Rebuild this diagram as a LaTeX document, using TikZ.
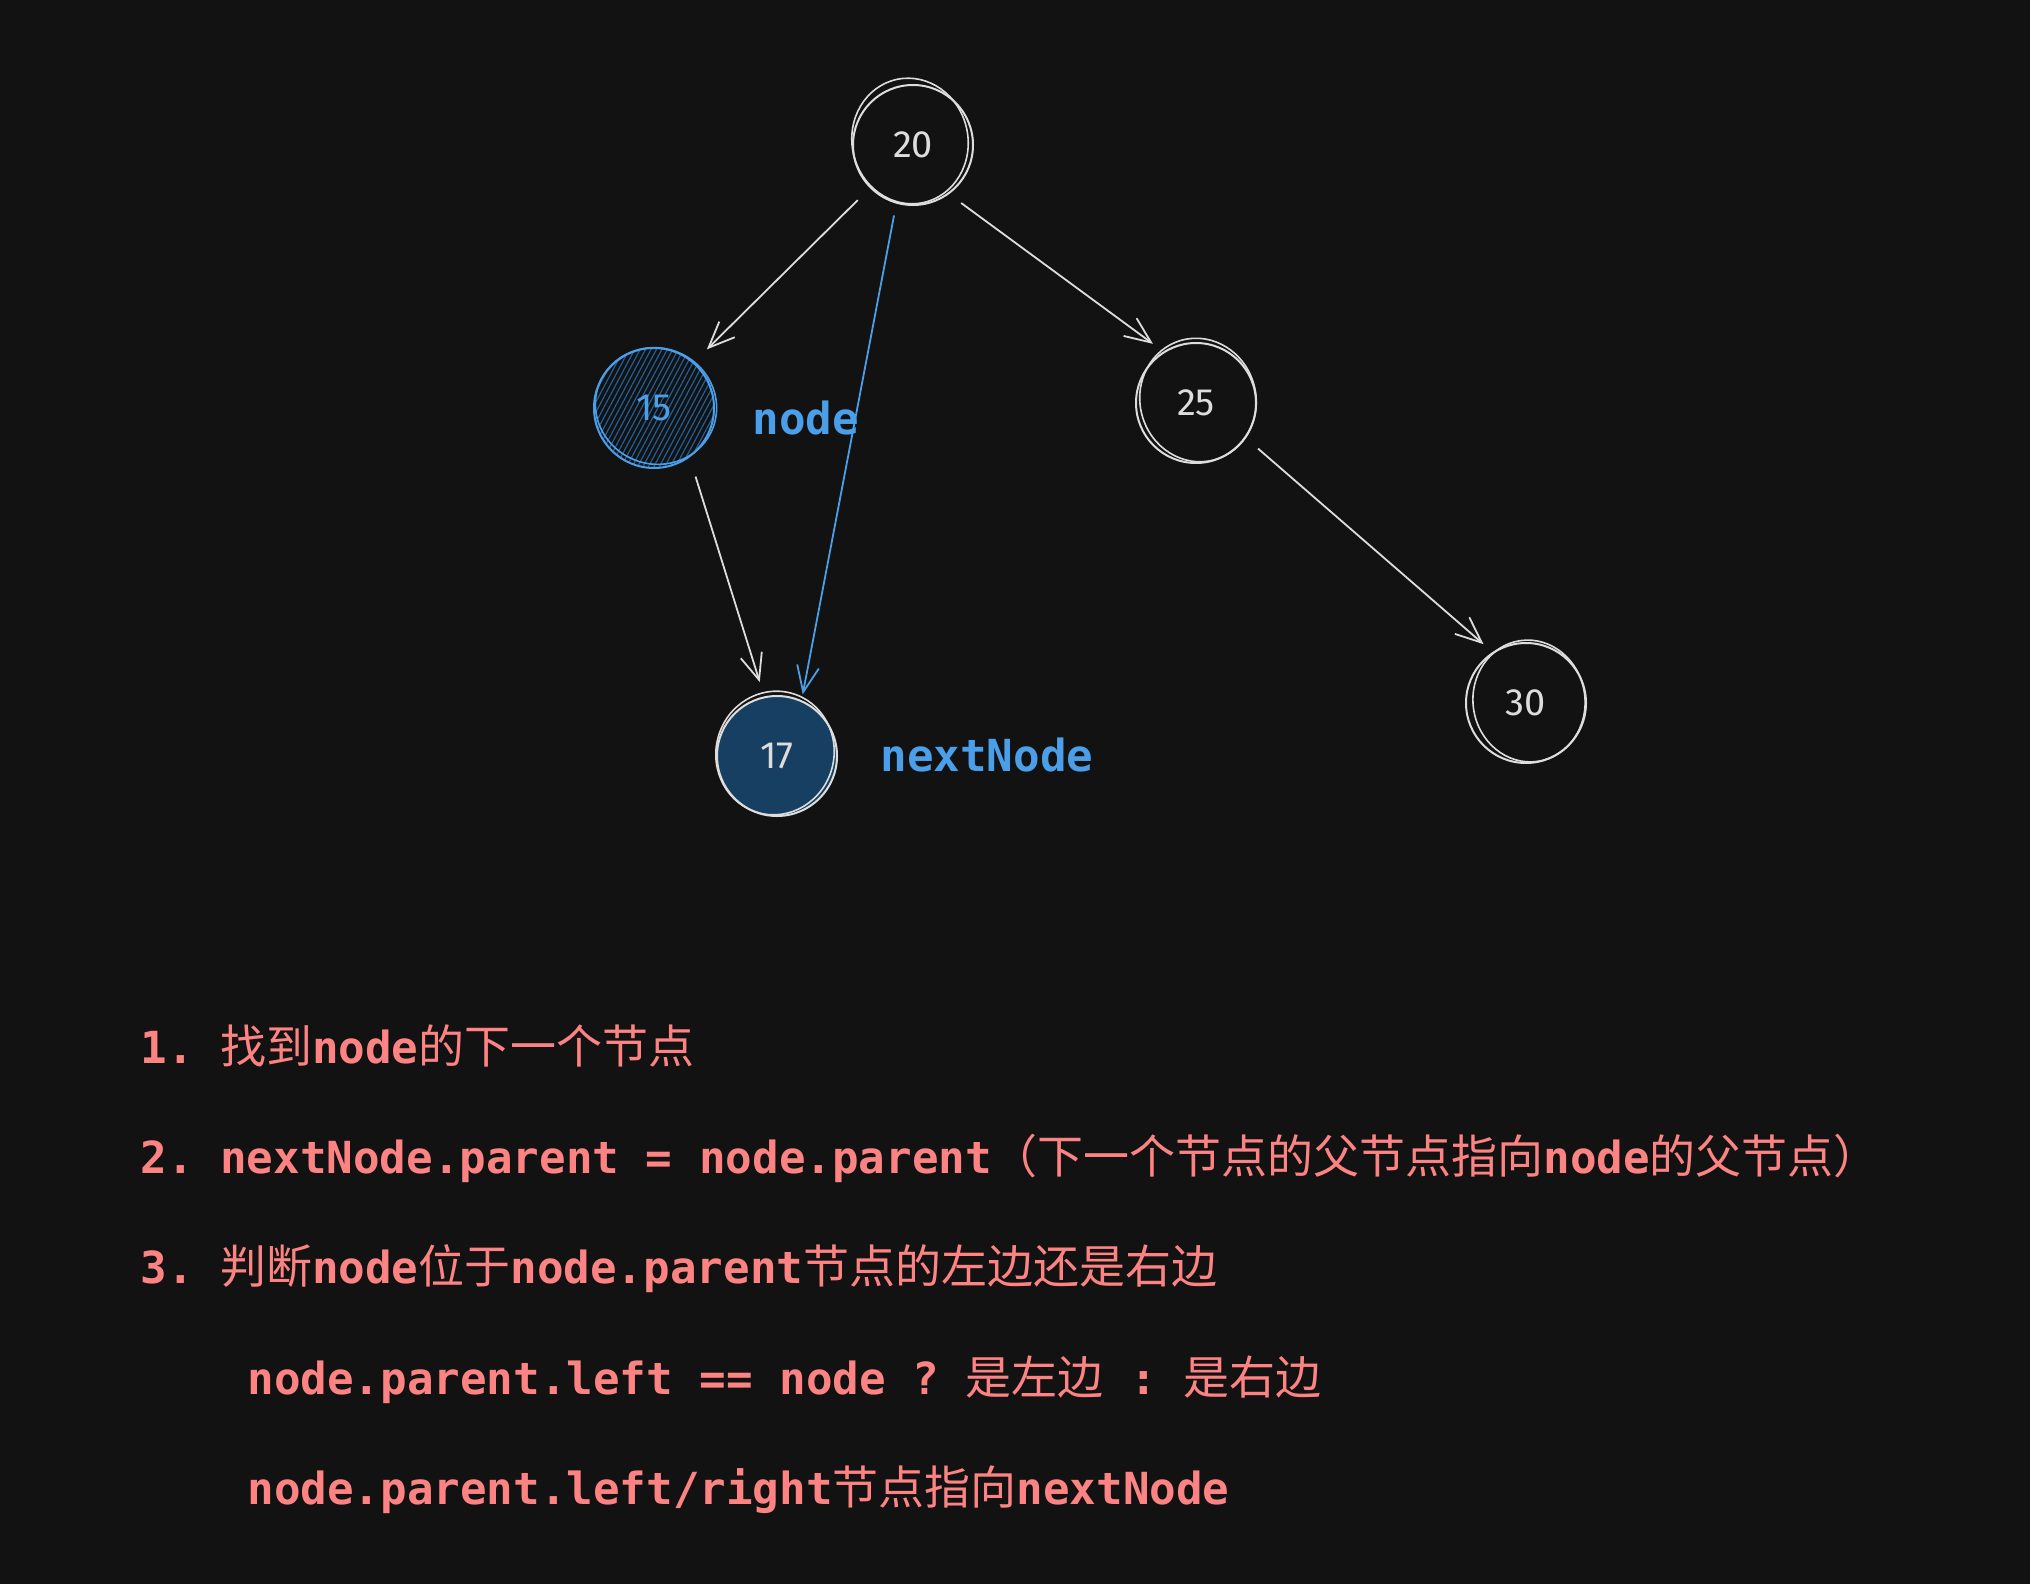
\documentclass[tikz,border=0pt]{standalone}
\usepackage{fontspec}
\usetikzlibrary{arrows.meta,patterns.meta}
\setmonofont{DejaVu Sans Mono}
\newfontfamily\cjkfont{Noto Sans CJK SC}[Scale=1.04]
\newfontfamily\handfont{Fira Sans}
\newcommand{\zhtxt}[1]{{\mdseries\cjkfont #1}}
\definecolor{bgc}{HTML}{121212}
\definecolor{ink}{HTML}{DDDDDD}
\definecolor{blu}{HTML}{4A9FE8}
\definecolor{fillb}{HTML}{163F61}
\definecolor{hach}{HTML}{235E96}
\definecolor{txtred}{HTML}{FF8383}
\tikzset{
  tree/.style={circle, draw=ink, line width=1pt, minimum size=60pt, inner sep=0pt, outer sep=0pt,
    font=\handfont\fontsize{19}{19}\selectfont, text=ink},
  sketch/.style={line width=0.8pt},
  arr/.style={draw=ink, line width=0.9pt, -{Straight Barb[length=13pt,width=11pt]}},
  barr/.style={arr, draw=blu},
  lbl/.style={anchor=base west, inner sep=0pt, text=blu, font=\ttfamily\bfseries\fontsize{22.1}{22.1}\selectfont},
  txt/.style={anchor=base west, inner sep=0pt, text=txtred, font=\ttfamily\bfseries\fontsize{22.1}{22.1}\selectfont},
}
\begin{document}
\begin{tikzpicture}[x=0.5pt, y=-0.5pt]
\fill[bgc] (0,0) rectangle (2030,1584);
\useasboundingbox (0,0) rectangle (2030,1584);

% tree nodes
\node[tree] (n20) at (913,145) {20};
\node[tree, draw=blu, text=blu, pattern={Lines[angle=62,distance=2.4pt,line width=0.6pt]}, pattern color=hach] (n15) at (654,408) {15};
\node[tree] (n25) at (1196,403) {25};
\node[tree, fill=fillb] (n17) at (777,756) {17};
\node[tree] (n30) at (1526,703) {30};

% second hand-drawn strokes of the circles
\draw[sketch, ink] ([shift={(-3,-4)}]n20.center) ellipse [x radius=29pt, y radius=31.5pt, rotate=12];
\draw[sketch, blu] ([shift={(2,-2)}]n15.center) ellipse [x radius=30.5pt, y radius=29pt, rotate=-20];
\draw[sketch, ink] ([shift={(2,-3)}]n25.center) ellipse [x radius=29pt, y radius=31pt, rotate=15];
\draw[sketch, ink] ([shift={(-2,-3)}]n17.center) ellipse [x radius=29.5pt, y radius=31pt, rotate=-15];
\draw[sketch, ink] ([shift={(3,-2)}]n30.center) ellipse [x radius=28pt, y radius=30.5pt, rotate=8];

% labels
\node[lbl] (lnode) at (752,434) {node};
\node[lbl] (lnext) at (880,771) {nextNode};

% connectors
\draw[arr, shorten <=9pt, shorten >=9.5pt] (n20.225) -- (n15.49.5);
\draw[arr, shorten <=8pt, shorten >=7pt] (n20.306) -- (n25.122.4);
\draw[barr, shorten <=6.5pt, shorten >=3.5pt] (n20.254) -- (n17.66);
\draw[arr, shorten <=10.5pt, shorten >=8pt] (n15.306) -- (n17.102);
\draw[arr, shorten <=8.5pt, shorten >=6.5pt] (n25.325) -- (n30.123);

% text
\node[txt] (t1) at (140,1063) {1. \zhtxt{找到}node\zhtxt{的下一个节点}};
\node[txt] (t2) at (140,1173) {2. nextNode.parent = node.parent\zhtxt{（下一个节点的父节点指向}node\zhtxt{的父节点）}};
\node[txt] (t3) at (140,1283) {3. \zhtxt{判断}node\zhtxt{位于}node.parent\zhtxt{节点的左边还是右边}};
\node[txt] (t4) at (247,1394) {node.parent.left == node ? \zhtxt{是左边} : \zhtxt{是右边}};
\node[txt] (t5) at (247,1504) {node.parent.left/right\zhtxt{节点指向}nextNode};
\end{tikzpicture}
\end{document}
